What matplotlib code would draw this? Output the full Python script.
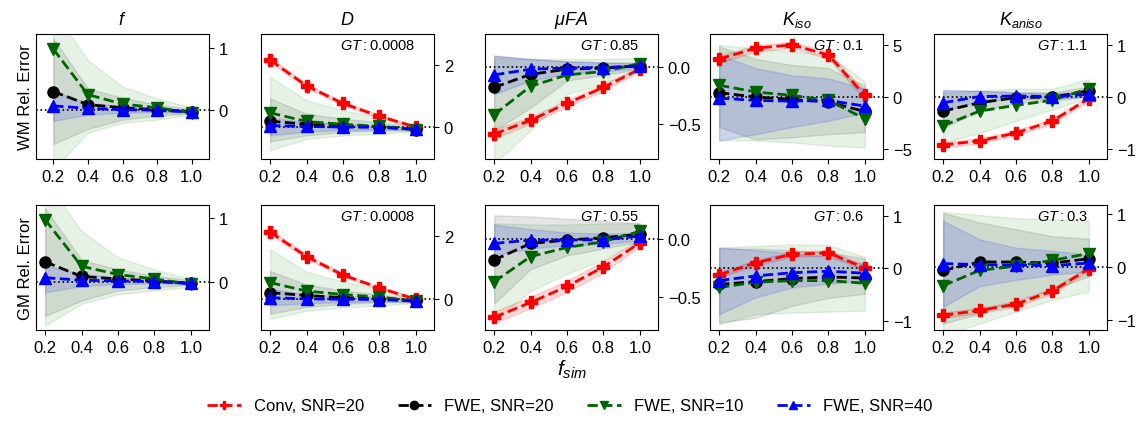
import matplotlib
matplotlib.use("Agg")
import matplotlib.pyplot as plt
from matplotlib.lines import Line2D

plt.rcParams["font.family"] = ["Liberation Sans", "DejaVu Sans"]
plt.rcParams["mathtext.fontset"] = "custom"
plt.rcParams["mathtext.rm"] = "Liberation Sans"
plt.rcParams["mathtext.it"] = "Liberation Sans:italic"

# ---- data -------------------------------------------------------------
x_sim = [0.2, 0.4, 0.6, 0.8, 1.0]
series_labels = ["Conv, SNR=20", "FWE, SNR=20", "FWE, SNR=10", "FWE, SNR=40"]
titles = ["$f$", "$D$", r"$\mu FA$", "$K_{iso}$", "$K_{aniso}$"]
row_labels = ["WM Rel. Error", "GM Rel. Error"]
gt_wm = [None, "0.0008", "0.85", "0.1", "1.1"]
gt_gm = [None, "0.0008", "0.55", "0.6", "0.3"]

# order in each list: Conv20, FWE20, FWE10, FWE40 (None = not estimated)
wm_f_mean = [None, [0.30, 0.09, 0.04, 0.01, -0.02], [0.98, 0.25, 0.10, 0.04, -0.04], [0.07, 0.03, 0.01, 0.0, -0.03]]
wm_f_lo = [None, [-0.54, -0.30, -0.15, -0.09, -0.05], [-0.95, -0.36, -0.20, -0.15, -0.08], [-0.17, -0.07, -0.04, -0.03, -0.04]]
wm_f_hi = [None, [1.15, 0.35, 0.20, 0.09, 0.02], [1.60, 0.80, 0.38, 0.19, 0.04], [0.30, 0.12, 0.06, 0.03, -0.01]]

gm_f_mean = [None, [0.31, 0.08, 0.04, 0.01, -0.03], [0.97, 0.24, 0.11, 0.04, -0.04], [0.06, 0.02, 0.01, 0.0, -0.03]]
gm_f_lo = [None, [-0.54, -0.30, -0.14, -0.09, -0.05], [-0.69, -0.35, -0.20, -0.14, -0.08], [-0.17, -0.07, -0.04, -0.03, -0.04]]
gm_f_hi = [None, [1.15, 0.34, 0.19, 0.09, 0.02], [1.60, 0.79, 0.38, 0.19, 0.04], [0.25, 0.12, 0.06, 0.03, -0.01]]

wm_d_mean = [[2.16, 1.33, 0.76, 0.35, 0.0], [0.19, 0.09, 0.04, 0.01, -0.08], [0.46, 0.18, 0.09, 0.02, -0.08], [0.05, 0.02, 0.0, -0.01, -0.07]]
wm_d_lo = [[2.08, 1.26, 0.70, 0.30, -0.04], [-0.46, -0.27, -0.16, -0.11, -0.12], [-0.74, -0.38, -0.27, -0.22, -0.14], [-0.27, -0.14, -0.10, -0.08, -0.09]]
wm_d_hi = [[2.24, 1.40, 0.82, 0.40, 0.04], [0.92, 0.43, 0.27, 0.16, -0.02], [1.62, 0.86, 0.54, 0.32, 0.08], [0.30, 0.16, 0.10, 0.06, -0.04]]

gm_d_mean = [[2.14, 1.36, 0.77, 0.36, 0.0], [0.21, 0.12, 0.05, 0.02, -0.06], [0.53, 0.26, 0.15, 0.07, -0.06], [0.05, 0.01, 0.0, -0.01, -0.06]]
gm_d_lo = [[2.06, 1.29, 0.71, 0.31, -0.04], [-0.46, -0.25, -0.15, -0.10, -0.10], [-0.62, -0.37, -0.26, -0.20, -0.12], [-0.20, -0.13, -0.09, -0.07, -0.08]]
gm_d_hi = [[2.22, 1.43, 0.83, 0.41, 0.04], [0.90, 0.47, 0.27, 0.16, 0.0], [1.60, 0.88, 0.56, 0.34, 0.08], [0.34, 0.15, 0.10, 0.06, -0.03]]

wm_ufa_mean = [[-0.59, -0.47, -0.32, -0.18, -0.02], [-0.18, -0.065, -0.02, -0.01, 0.01], [-0.42, -0.17, -0.07, -0.04, 0.03], [-0.07, -0.02, -0.01, -0.006, 0.01]]
wm_ufa_lo = [[-0.63, -0.50, -0.35, -0.21, -0.04], [-0.56, -0.36, -0.12, -0.07, -0.02], [-0.85, -0.56, -0.24, -0.15, -0.02], [-0.24, -0.12, -0.06, -0.04, -0.01]]
wm_ufa_hi = [[-0.55, -0.44, -0.29, -0.15, 0.0], [0.10, 0.07, 0.05, 0.04, 0.04], [0.08, 0.07, 0.07, 0.07, 0.08], [0.10, 0.07, 0.05, 0.04, 0.03]]

gm_ufa_mean = [[-0.68, -0.55, -0.41, -0.24, -0.03], [-0.18, -0.035, -0.006, 0.015, 0.045], [-0.37, -0.15, -0.07, -0.02, 0.07], [-0.035, -0.006, -0.005, -0.004, 0.03]]
gm_ufa_lo = [[-0.73, -0.60, -0.46, -0.29, -0.06], [-0.56, -0.26, -0.14, -0.08, -0.02], [-0.71, -0.45, -0.30, -0.18, 0.0], [-0.14, -0.08, -0.05, -0.04, -0.01]]
gm_ufa_hi = [[-0.63, -0.50, -0.36, -0.19, 0.0], [0.21, 0.20, 0.18, 0.16, 0.14], [0.14, 0.13, 0.13, 0.14, 0.14], [0.13, 0.09, 0.06, 0.05, 0.06]]

wm_kiso_mean = [[3.68, 4.72, 5.05, 4.07, 0.16], [0.42, 0.0, -0.23, -0.49, -1.4], [1.14, 0.49, 0.16, -0.33, -2.1], [-0.1, -0.33, -0.4, -0.33, -0.88]]
wm_kiso_lo = [[3.3, 4.4, 4.75, 3.7, -0.2], [-2.9, -4.1, -3.9, -3.6, -3.4], [-4.2, -4.2, -4.4, -4.7, -4.9], [-4.2, -3.6, -2.9, -2.3, -1.5]]
wm_kiso_hi = [[4.0, 5.0, 5.35, 4.4, 0.5], [4.9, 3.7, 3.1, 2.8, 1.1], [5.05, 4.7, 4.4, 4.1, 1.5], [4.07, 2.8, 2.1, 1.8, 0.8]]

gm_kiso_mean = [[-0.13, 0.10, 0.26, 0.29, 0.0], [-0.31, -0.26, -0.20, -0.17, -0.19], [-0.37, -0.27, -0.24, -0.24, -0.29], [-0.24, -0.15, -0.09, -0.06, -0.10]]
gm_kiso_lo = [[-0.18, 0.05, 0.21, 0.24, -0.05], [-1.04, -0.95, -0.72, -0.57, -0.49], [-1.07, -0.88, -0.85, -0.83, -0.81], [-0.88, -0.56, -0.37, -0.30, -0.24]]
gm_kiso_hi = [[-0.08, 0.15, 0.31, 0.34, 0.05], [0.37, 0.37, 0.34, 0.30, 0.18], [0.39, 0.42, 0.45, 0.44, 0.21], [0.39, 0.34, 0.28, 0.21, 0.08]]

wm_kan_mean = [[-0.92, -0.84, -0.69, -0.46, -0.03], [-0.27, -0.11, -0.01, 0.0, 0.12], [-0.55, -0.27, -0.16, -0.06, 0.16], [-0.11, 0.01, 0.02, 0.01, 0.05]]
wm_kan_lo = [[-0.97, -0.89, -0.74, -0.51, -0.07], [-0.59, -0.27, -0.11, -0.08, 0.02], [-0.88, -0.69, -0.46, -0.24, -0.01], [-0.27, -0.08, -0.04, -0.03, 0.0]]
wm_kan_hi = [[-0.87, -0.79, -0.64, -0.41, 0.01], [0.12, 0.12, 0.09, 0.09, 0.20], [0.08, 0.12, 0.16, 0.16, 0.34], [0.14, 0.12, 0.09, 0.07, 0.10]]

gm_kan_mean = [[-0.91, -0.82, -0.70, -0.45, -0.03], [-0.06, 0.10, 0.10, 0.08, 0.16], [-0.35, -0.06, 0.02, 0.13, 0.26], [0.07, 0.05, 0.04, 0.03, 0.08]]
gm_kan_lo = [[-0.96, -0.87, -0.75, -0.50, -0.07], [-1.07, -0.88, -0.62, -0.43, -0.17], [-1.30, -1.07, -0.84, -0.62, -0.46], [-0.75, -0.36, -0.24, -0.14, -0.08]]
gm_kan_hi = [[-0.86, -0.77, -0.65, -0.40, 0.01], [1.03, 0.85, 0.72, 0.59, 0.54], [1.05, 0.99, 0.93, 0.91, 0.88], [0.88, 0.53, 0.37, 0.31, 0.24]]

# ---- styling --------------------------------------------------------------
colors = ["red", "black", "darkgreen", "blue"]
band_colors = ["red", "black", "green", "blue"]
band_alpha = [0.15, 0.1, 0.1, 0.12]
markers = ["P", "o", "v", "^"]

rows = [
    [(wm_f_mean, wm_f_lo, wm_f_hi), (wm_d_mean, wm_d_lo, wm_d_hi), (wm_ufa_mean, wm_ufa_lo, wm_ufa_hi),
     (wm_kiso_mean, wm_kiso_lo, wm_kiso_hi), (wm_kan_mean, wm_kan_lo, wm_kan_hi)],
    [(gm_f_mean, gm_f_lo, gm_f_hi), (gm_d_mean, gm_d_lo, gm_d_hi), (gm_ufa_mean, gm_ufa_lo, gm_ufa_hi),
     (gm_kiso_mean, gm_kiso_lo, gm_kiso_hi), (gm_kan_mean, gm_kan_lo, gm_kan_hi)],
]
ylims = [
    [(-0.78, 1.22), (-1.03, 3.0), (-0.81, 0.29), (-6.0, 6.1), (-1.19, 1.21)],
    [(-0.76, 1.2), (-0.98, 3.0), (-0.79, 0.3), (-1.18, 1.2), (-1.19, 1.18)],
]
yticks = [
    [[0, 1], [0, 2], [-0.5, 0.0], [-5, 0, 5], [-1, 0, 1]],
    [[0, 1], [0, 2], [-0.5, 0.0], [-1, 0, 1], [-1, 0, 1]],
]
gts = [gt_wm, gt_gm]

W, H = 1140, 427
fig = plt.figure(figsize=(W / 100, H / 100), dpi=100)
lefts = [36, 261, 485, 710, 934]
tops = [35, 206]
aw, ah = 173, 125

for r in range(2):
    for c in range(5):
        ax = fig.add_axes([lefts[c] / W, 1 - (tops[r] + ah) / H, aw / W, ah / H])
        mean, lo, hi = rows[r][c]
        for k in range(4):
            if mean[k] is None:
                continue
            ax.fill_between(x_sim, lo[k], hi[k], color=band_colors[k], alpha=band_alpha[k], zorder=1)
        ax.axhline(0, color="black", linestyle=":", linewidth=1.2, zorder=2)
        for k in range(4):
            if mean[k] is None:
                continue
            ax.plot(x_sim, mean[k], linestyle="--", color=colors[k], marker=markers[k],
                    markersize=8, linewidth=2, zorder=3 + k)
        if r == 0 and c == 0:
            ax.set_xlim(0.1, 1.1)
        else:
            ax.set_xlim(0.15, 1.1)
        ax.set_ylim(*ylims[r][c])
        ax.set_xticks(x_sim)
        ax.set_xticklabels(["0.2", "0.4", "0.6", "0.8", "1.0"])
        ax.set_yticks(yticks[r][c])
        ax.yaxis.tick_right()
        ax.tick_params(labelsize=12)
        if gts[r][c] is not None:
            ax.text(0.89, 0.91, "$GT: " + gts[r][c] + "$", transform=ax.transAxes,
                    ha="right", va="center", fontsize=10.5)
        if r == 0:
            ax.set_title(titles[c], fontsize=13, pad=7)
        if c == 0:
            ax.set_ylabel(row_labels[r], fontsize=12, labelpad=2)
        if r == 1 and c == 2:
            ax.set_xlabel("$f_{sim}$", fontsize=15, labelpad=2)

handles = [Line2D([], [], color=colors[k], marker=markers[k], linestyle="--", linewidth=2, markersize=6)
           for k in range(4)]
fig.legend(handles, series_labels, loc="center", bbox_to_anchor=(0.5, 1 - 407 / H), ncol=4,
           frameon=False, fontsize=12, columnspacing=2.0, handlelength=2.0)

fig.savefig("out.png", dpi=100)
plt.close()
